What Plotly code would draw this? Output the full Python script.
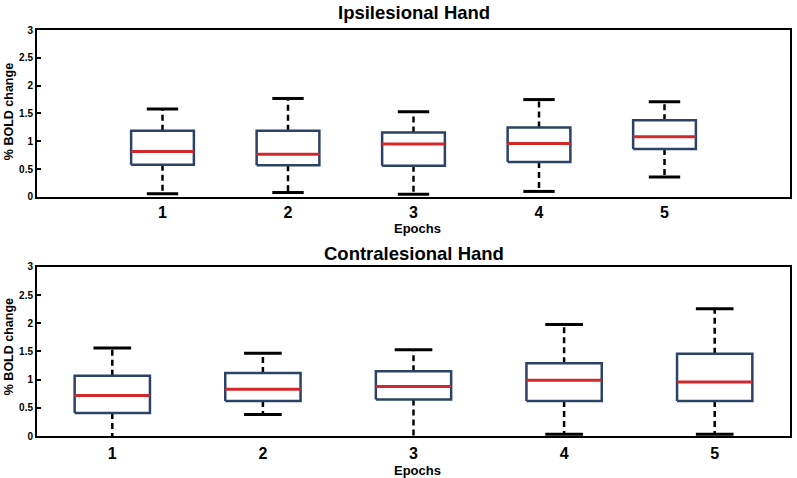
import plotly.graph_objects as go
from plotly.subplots import make_subplots

# ---- data ----
epochs = [1, 2, 3, 4, 5]
tick_labels = ["1", "2", "3", "4", "5"]

ipsi_lower = [0.06, 0.08, 0.05, 0.10, 0.36]
ipsi_q1 = [0.58, 0.57, 0.56, 0.63, 0.86]
ipsi_median = [0.815, 0.77, 0.95, 0.96, 1.08]
ipsi_q3 = [1.19, 1.19, 1.16, 1.25, 1.38]
ipsi_upper = [1.58, 1.77, 1.53, 1.75, 1.71]

contra_lower = [-0.2, 0.38, -0.2, 0.03, 0.03]
contra_q1 = [0.41, 0.62, 0.65, 0.62, 0.62]
contra_median = [0.72, 0.83, 0.88, 0.99, 0.96]
contra_q3 = [1.07, 1.12, 1.15, 1.29, 1.46]
contra_upper = [1.56, 1.47, 1.53, 1.98, 2.26]

titles = ["Ipsilesional Hand", "Contralesional Hand"]
x_title = "Epochs"
y_title = "% BOLD change"

NAVY = "#2c4366"
RED = "#d2282c"
HALF = 0.25
CAP = 0.125
FONT = "Liberation Sans, Arial, sans-serif"

fig = make_subplots(rows=2, cols=1)


def add_boxes(row, lower, q1, med, q3, upper):
    wx, wy, cx, cy, bx, by, mx, my = [], [], [], [], [], [], [], []
    for x, lo, a, m, b, up in zip(epochs, lower, q1, med, q3, upper):
        wx += [x, x, None, x, x, None]
        wy += [b, up, None, a, lo, None]
        cx += [x - CAP, x + CAP, None, x - CAP, x + CAP, None]
        cy += [up, up, None, lo, lo, None]
        bx += [x - HALF, x + HALF, x + HALF, x - HALF, x - HALF, None]
        by += [a, a, b, b, a, None]
        mx += [x - HALF, x + HALF, None]
        my += [m, m, None]
    fig.add_trace(go.Scatter(x=wx, y=wy, mode="lines", showlegend=False, hoverinfo="skip",
                             line=dict(color="black", width=2.5, dash="6px,4px")), row=row, col=1)
    fig.add_trace(go.Scatter(x=cx, y=cy, mode="lines", showlegend=False, hoverinfo="skip",
                             line=dict(color="black", width=3)), row=row, col=1)
    fig.add_trace(go.Scatter(x=bx, y=by, mode="lines", showlegend=False, hoverinfo="skip",
                             line=dict(color=NAVY, width=2.5)), row=row, col=1)
    fig.add_trace(go.Scatter(x=mx, y=my, mode="lines", showlegend=False, hoverinfo="skip",
                             line=dict(color=RED, width=3)), row=row, col=1)


add_boxes(1, ipsi_lower, ipsi_q1, ipsi_median, ipsi_q3, ipsi_upper)
add_boxes(2, contra_lower, contra_q1, contra_median, contra_q3, contra_upper)

axis_common = dict(showline=True, linecolor="black", linewidth=2, mirror=True,
                   showgrid=False, zeroline=False)

fig.update_xaxes(**axis_common, tickvals=epochs, ticktext=tick_labels, ticks="",
                 tickfont=dict(family=FONT, size=16, color="black", weight="bold"))
fig.update_yaxes(**axis_common, range=[0, 3], tickvals=[0, 0.5, 1, 1.5, 2, 2.5, 3],
                 ticktext=["0", "0.5", "1", "1.5", "2", "2.5", "3"],
                 ticks="inside", ticklen=4, tickwidth=1.5, tickcolor="black",
                 tickfont=dict(family=FONT, size=10, color="black", weight="bold"))

fig.update_layout(
    width=797, height=478,
    margin=dict(l=37, r=5, t=30, b=42),
    paper_bgcolor="white", plot_bgcolor="white",
    xaxis=dict(range=[0, 6], domain=[0, 1]),
    yaxis=dict(domain=[0.5887, 1]),
    xaxis2=dict(range=[0.5, 5.5], domain=[0, 1], ticklabelstandoff=2),
    yaxis2=dict(domain=[0, 0.4163]),
    showlegend=False,
)

ann_font = dict(family=FONT, color="black", weight="bold")
anns = [
    dict(text=titles[0], x=0.5, y=1.042, font=dict(size=18.5, **ann_font)),
    dict(text=titles[1], x=0.5, y=0.4507, font=dict(size=18.5, **ann_font)),
    dict(text=x_title, x=0.505, y=0.511, font=dict(size=13, **ann_font)),
    dict(text=x_title, x=0.505, y=-0.085, font=dict(size=13, **ann_font)),
    dict(text=y_title, x=-0.037, y=0.798, textangle=-90, font=dict(size=12.5, **ann_font)),
    dict(text=y_title, x=-0.037, y=0.219, textangle=-90, font=dict(size=12.5, **ann_font)),
]
for a in anns:
    fig.add_annotation(xref="paper", yref="paper", xanchor="center", yanchor="middle",
                       showarrow=False, **a)

fig.write_html("out.html", config={"displayModeBar": False},
               post_script="document.body.style.margin='0px';document.body.style.overflow='hidden';")
